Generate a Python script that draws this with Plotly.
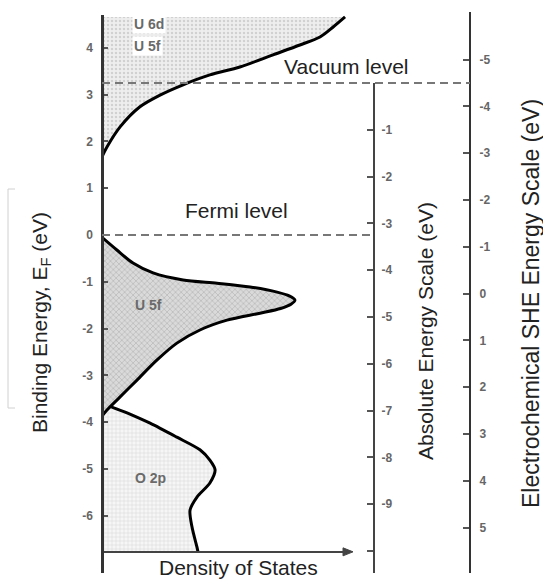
import plotly.graph_objects as go

# ---------------- data ----------------
# Conduction band (U 6d / U 5f) : density of states (arb.) vs binding energy (eV)
CB_DOS = [0.0, 0.2, 0.73, 1.53, 2.34, 3.27, 4.35, 5.56, 6.9, 7.98, 8.79, 9.31, 9.8]
CB_E = [1.67, 1.88, 2.31, 2.74, 2.99, 3.21, 3.42, 3.59, 3.85, 4.06, 4.23, 4.44, 4.66]

# U 5f band below the Fermi level
U5F_DOS = [0.0, 0.6, 1.25, 2.06, 3.27, 4.64, 5.97, 7.06, 7.55, 7.78, 7.62, 7.2, 6.37,
           5.04, 3.95, 3.02, 2.22, 1.41, 0.73, 0.2, 0.0]
U5F_E = [-0.05, -0.32, -0.6, -0.81, -0.96, -1.03, -1.11, -1.22, -1.30, -1.39, -1.48,
         -1.57, -1.67, -1.82, -2.03, -2.31, -2.67, -3.10, -3.46, -3.74, -3.87]

# O 2p band
O2P_DOS = [0.0, 0.24, 1.01, 1.94, 3.02, 3.95, 4.35, 4.56, 4.35, 3.83, 3.55, 3.63, 3.83, 3.87]
O2P_E = [-3.44, -3.63, -3.80, -4.02, -4.32, -4.59, -4.81, -5.02, -5.30, -5.60, -5.88,
         -6.24, -6.67, -6.77]

VACUUM_E = 3.25      # vacuum level on the binding-energy scale
FERMI_E = 0.0        # Fermi level
SHE_OF_VACUUM = 4.5  # vacuum level sits at -4.5 on the SHE scale as drawn
DOS_AXIS_E = -6.77   # where the DOS axis crosses

BIND_TICKS = [-6, -5, -4, -3, -2, -1, 0, 1, 2, 3, 4]
BIND_LABELS = ["-6", "-5", "-4", "-3", "-2", "-1", "0", "1", "2", "3", "4"]
ABS_TICKS = [-1, -2, -3, -4, -5, -6, -7, -8, -9]
ABS_LABELS = ["-1", "-2", "-3", "-4", "-5", "-6", "-7", "-8", "-9"]
ABS_UNLABELED = [0, -10]
SHE_TICKS = [-5, -4, -3, -2, -1, 0, 1, 2, 3, 4, 5]
SHE_LABELS = ["-5", "-4", "-3", "-2", "-1", "0", "1", "2", "3", "4", "5"]
SHE_UNLABELED = [-6]

# ---------------- layout helpers ----------------
W, H = 543, 582
E0_PX, PX_PER_EV = 235.0, 46.8


def px_x(x):
    return x / W


def px_y(y):
    return 1 - y / H


def e_at(py):
    return (E0_PX - py) / PX_PER_EV


def she(e):
    return -(e - VACUUM_E) - SHE_OF_VACUUM


vac_px = E0_PX - VACUUM_E * PX_PER_EV
dos_axis_px = E0_PX - DOS_AXIS_E * PX_PER_EV
AX_BOTTOM = 573

fig = go.Figure()

# fills + curves
fig.add_trace(go.Scatter(
    x=O2P_DOS, y=O2P_E, mode="lines", fill="tozerox",
    line=dict(color="black", width=3, shape="spline", smoothing=0.8),
    fillcolor="#f0f0f0",
    fillpattern=dict(shape="+", bgcolor="#f6f6f6", fgcolor="#b8b8b8", size=4, solidity=0.25),
    hoverinfo="skip", showlegend=False))
fig.add_trace(go.Scatter(
    x=U5F_DOS, y=U5F_E, mode="lines", fill="tozerox",
    line=dict(color="black", width=3, shape="spline", smoothing=0.8),
    fillcolor="#d0d0d0",
    fillpattern=dict(shape="x", bgcolor="#dadada", fgcolor="#8c8c8c", size=4, solidity=0.3),
    hoverinfo="skip", showlegend=False))
fig.add_trace(go.Scatter(
    x=CB_DOS, y=CB_E, mode="lines", fill="tozerox",
    line=dict(color="black", width=3, shape="spline", smoothing=0.8),
    fillcolor="#e8e8e8",
    fillpattern=dict(shape=".", bgcolor="#eeeeee", fgcolor="#b4b4b4", size=4, solidity=0.3),
    hoverinfo="skip", showlegend=False))

# invisible carriers for the two extra energy scales
fig.add_trace(go.Scatter(x=[0] * len(ABS_TICKS), y=ABS_TICKS, yaxis="y2", mode="markers",
                         marker=dict(opacity=0), hoverinfo="skip", showlegend=False))
fig.add_trace(go.Scatter(x=[0] * len(SHE_TICKS), y=SHE_TICKS, yaxis="y3", mode="markers",
                         marker=dict(opacity=0), hoverinfo="skip", showlegend=False))

tickfont = dict(family="Liberation Sans, Arial", size=12, color="#666", weight="bold")

fig.update_layout(
    width=W, height=H,
    margin=dict(l=0, r=0, t=0, b=0),
    paper_bgcolor="white", plot_bgcolor="rgba(0,0,0,0)",
    font=dict(family="Liberation Sans, Arial", color="#222"),
    xaxis=dict(domain=[px_x(102), px_x(350)], range=[0, 10], anchor="free",
               position=px_y(dos_axis_px),
               showline=True, linecolor="#444", linewidth=2, ticks="",
               showticklabels=False, showgrid=False, zeroline=False),
    yaxis=dict(domain=[px_y(AX_BOTTOM), px_y(15)], range=[e_at(AX_BOTTOM), e_at(15)],
               anchor="free", position=px_x(102),
               showline=True, linecolor="#333", linewidth=2.5,
               ticks="inside", ticklen=4, tickwidth=1.5, tickcolor="#555",
               tickvals=BIND_TICKS, ticktext=BIND_LABELS, tickfont=tickfont,
               ticklabelstandoff=6, showgrid=False, zeroline=False),
    yaxis2=dict(domain=[px_y(AX_BOTTOM), px_y(vac_px)],
                range=[e_at(AX_BOTTOM) - VACUUM_E, 0], anchor="free", position=px_x(374),
                side="right", showline=True, linecolor="#444", linewidth=2,
                ticks="inside", ticklen=6, tickwidth=1.5, tickcolor="#555",
                tickvals=ABS_TICKS, ticktext=ABS_LABELS, tickfont=tickfont,
                minor=dict(tickvals=ABS_UNLABELED, ticks="inside", ticklen=6,
                           tickwidth=1.5, tickcolor="#555", showgrid=False),
                ticklabelstandoff=4, showgrid=False, zeroline=False),
    yaxis3=dict(domain=[px_y(AX_BOTTOM), px_y(12)],
                range=[she(e_at(AX_BOTTOM)), she(e_at(12))], anchor="free", position=px_x(470),
                side="right", showline=True, linecolor="#333", linewidth=2,
                ticks="inside", ticklen=6, tickwidth=1.5, tickcolor="#555",
                tickvals=SHE_TICKS, ticktext=SHE_LABELS, tickfont=tickfont,
                minor=dict(tickvals=SHE_UNLABELED, ticks="inside", ticklen=6,
                           tickwidth=1.5, tickcolor="#555", showgrid=False),
                ticklabelstandoff=6, showgrid=False, zeroline=False),
)

# vacuum and Fermi levels
fig.add_shape(type="line", xref="paper", yref="y", x0=px_x(102), x1=px_x(470),
              y0=VACUUM_E, y1=VACUUM_E, line=dict(color="#777", width=2, dash="8px,5px"))
fig.add_shape(type="line", xref="paper", yref="y", x0=px_x(102), x1=px_x(374),
              y0=FERMI_E, y1=FERMI_E, line=dict(color="#777", width=2, dash="8px,5px"))
# faint bracket at left edge (scan artefact)
fig.add_shape(type="path", xref="paper", yref="paper",
              path=f"M {px_x(15)} {px_y(189)} L {px_x(8)} {px_y(189)} L {px_x(8)} {px_y(408)} L {px_x(15)} {px_y(408)}",
              line=dict(color="#d0d0d0", width=1))
# arrow head of the DOS axis
fig.add_shape(type="path", xref="paper", yref="paper",
              path=(f"M {px_x(343)} {px_y(dos_axis_px - 4)} L {px_x(353)} {px_y(dos_axis_px)} "
                    f"L {px_x(343)} {px_y(dos_axis_px + 4)} Z"),
              fillcolor="#444", line=dict(color="#444", width=1))

band_font = dict(family="Liberation Sans, Arial", size=14, color="#6a6a6a", weight="bold")
for txt, xx, yy, bg in [("U 6d", 1.21, 4.51, "white"), ("U 5f", 1.21, 4.04, "white"),
                        ("U 5f", 1.25, -1.5, None), ("O 2p", 1.25, -5.19, None)]:
    fig.add_annotation(x=xx, y=yy, xref="x", yref="y", text=txt, showarrow=False,
                       xanchor="left", yanchor="middle", font=band_font,
                       bgcolor=bg if bg else "rgba(0,0,0,0)")

big = dict(family="Liberation Sans, Arial", size=21, color="#222")
for txt, xx, yy in [("Vacuum level", 282, 66), ("Fermi level", 183, 210),
                    ("Density of States", 157, 567)]:
    fig.add_annotation(x=px_x(xx), y=px_y(yy), xref="paper", yref="paper", text=txt,
                       showarrow=False, xanchor="left", yanchor="middle", font=big)

for txt, xx, yy, sz in [("Binding Energy, E<sub>F</sub> (eV)", 41, 323, 21),
                        ("Absolute Energy Scale (eV)", 425, 331, 21),
                        ("Electrochemical SHE Energy Scale (eV)", 531, 304, 23)]:
    fig.add_annotation(x=px_x(xx), y=px_y(yy), xref="paper", yref="paper", text=txt,
                       textangle=-90, showarrow=False, xanchor="center", yanchor="middle",
                       font=dict(family="Liberation Sans, Arial", size=sz, color="#222"))

fig.write_html("out.html", post_script="document.body.style.margin='0';",
               config={"displayModeBar": False})
